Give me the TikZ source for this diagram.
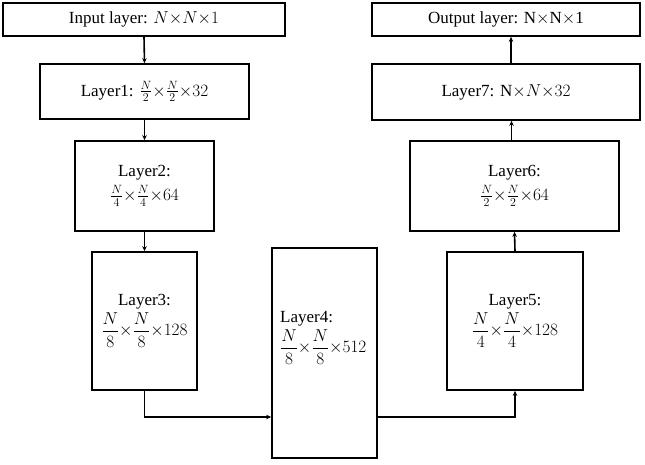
\documentclass[tikz,border=0pt]{standalone}
\usepackage{fontspec}
\usepackage{amsmath}
\setmainfont{Liberation Serif}
\usetikzlibrary{arrows.meta,calc}
\newcommand{\tms}{{\times}}
\begin{document}
\begin{tikzpicture}[x=1pt,y=-1pt,
  lay/.style={draw,line width=1.7pt,inner sep=0pt,align=center,font=\fontsize{17}{21}\selectfont},
  con/.style={line width=1.6pt,-{Stealth[length=5pt,width=4.5pt]}}]
\useasboundingbox (0,0) rectangle (645,464);
\node[lay,minimum width=282pt,minimum height=33pt] (in) at (144,19.5) {Input layer: $N\tms N\tms 1$};
\node[lay,minimum width=209pt,minimum height=55pt] (l1) at (144.5,91.5) {Layer1: $\tfrac{N}{2}\tms\tfrac{N}{2}\tms 32$};
\node[lay,minimum width=139pt,minimum height=90pt] (l2) at (144.5,186) {Layer2:\\[3pt] $\tfrac{N}{4}\tms\tfrac{N}{4}\tms 64$};
\node[lay,minimum width=105pt,minimum height=138pt] (l3) at (144.5,321) {Layer3:\\[2pt] $\dfrac{N}{8}\tms\dfrac{N}{8}\tms 128$};
\node[lay,minimum width=105pt,minimum height=210pt] (l4) at (324.5,353) {};
\node[font=\fontsize{17}{21}\selectfont,align=left,anchor=west,inner sep=0pt] (t4) at (280,338) {Layer4:\\[2pt] $\dfrac{N}{8}\tms\dfrac{N}{8}\tms 512$};
\node[lay,minimum width=136pt,minimum height=138pt] (l5) at (515,321) {Layer5:\\[2pt] $\dfrac{N}{4}\tms\dfrac{N}{4}\tms 128$};
\node[lay,minimum width=209pt,minimum height=90pt] (l6) at (514.5,186) {Layer6:\\[3pt] $\tfrac{N}{2}\tms\tfrac{N}{2}\tms 64$};
\node[lay,minimum width=268pt,minimum height=56pt] (l7) at (506,92) {Layer7: N$\tms N\tms 32$};
\node[lay,minimum width=268pt,minimum height=33pt] (out) at (506,19.5) {Output layer: N$\tms$N$\tms$1};
\draw[con] (in.south) -- (l1.north);
\draw[con] (l1.south) -- (l2.north);
\draw[con] (l2.south) -- (l3.north);
\draw[con] (l3.south) |- ($(l4.west)+(0,64)$);
\draw[con] ($(l4.east)+(0,64)$) -| (l5.south);
\draw[con] (l5.north) -- (l6.south);
\draw[con] ([xshift=-3pt]l6.north) -- ([xshift=-3pt]l6.north |- l7.south);
\draw[con] ([xshift=5pt]l7.north) -- ([xshift=5pt]l7.north |- out.south);
\end{tikzpicture}
\end{document}
